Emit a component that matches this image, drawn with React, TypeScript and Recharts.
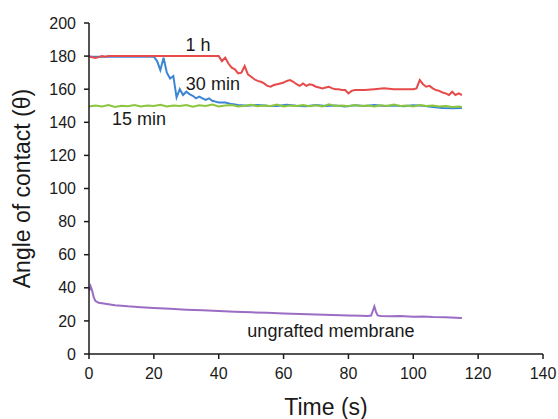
import React from "react";
import {
    Line,
    LineChart,
    ReferenceDot,
    XAxis,
    YAxis,
} from "recharts";

// 1 h grafting
const oneHourTime = [
    0, 1, 2, 3, 4, 5, 6, 8, 10, 15, 20, 25, 30, 35, 38, 40,
    41, 42, 43, 44, 45, 46, 47, 48, 49, 50,
    51, 52, 53, 54, 55, 56, 57, 58, 59, 60,
    61, 62, 63, 64, 65, 66, 67, 68, 69, 70,
    71, 72, 73, 74, 75, 76, 77, 78, 79, 80,
    81, 82, 83, 85, 88, 91, 94, 97, 100,
    101, 102, 103, 104, 105, 106, 107, 108, 109, 110, 111, 112, 113, 114, 115,
];
const oneHourAngle = [
    180, 179.3, 178.8, 179.4, 180, 179.6, 180, 180, 180, 180, 180, 180, 180, 180, 180, 180,
    177, 179, 175.5, 173, 172, 169.5, 170, 174, 169, 167.5,
    166, 165, 164.5, 163.5, 162, 161.5, 162.5, 163, 163.5, 164,
    165, 165.5, 164.5, 163, 162, 163.5, 162, 163, 162.5, 161.5,
    161, 160.5, 161, 161.5, 160.5, 160, 160, 159.5, 159.5, 157.5,
    159, 159.5, 159.5, 159.5, 160, 160.5, 160, 160, 160,
    160.5, 165.5, 163, 161.5, 162, 160.5, 159.5, 159, 158, 157.5, 156.5, 158.5, 156.5, 157.5, 156.5,
];

// 30 min grafting
const thirtyMinTime = [
    0, 5, 10, 15, 20,
    21, 22, 23, 24, 25, 26, 27, 28, 29, 30,
    31, 32, 33, 34, 35, 36, 37, 38, 39, 40,
    42, 44, 46,
    49, 52, 55, 58, 61, 64, 67, 70, 73, 76, 79, 82, 85, 88, 91, 94, 97, 100, 103, 106, 109, 112, 115,
];
const thirtyMinAngle = [
    179.6, 179.6, 179.6, 179.6, 179.6,
    177, 171.5, 179, 170, 166.5, 168, 155, 160, 156.5, 158.5,
    157, 156, 154.5, 155.5, 154.5, 153.5, 154.5, 153, 152.5, 152,
    152, 151, 150.5,
    150, 150.5, 150, 149.8, 150.6, 150, 149.7, 150.4, 149.8, 150.2, 149.6, 150.3, 149.8, 150.5, 149.9, 150.2, 149.7, 150.3, 150, 149.2, 148.7, 148.5, 148.6,
];

// 15 min grafting
const fifteenMinTime = [
    0, 2, 4, 6, 8, 10, 12, 14, 16, 18,
    20, 22, 24, 26, 28, 30, 32, 34, 36, 38,
    40, 42, 44, 46, 48, 50, 52, 54, 56, 58,
    60, 62, 64, 66, 68, 70, 72, 74, 76, 78,
    80, 82, 84, 86, 88, 90, 92, 94, 96, 98,
    100, 102, 104, 106, 108, 110, 112, 114, 115,
];
const fifteenMinAngle = [
    149.5, 150.2, 149.6, 150.4, 149.3, 150, 149.7, 150.5, 149.5, 150.1,
    149.8, 150.6, 149.6, 150.2, 149.9, 150.5, 149.4, 150.3, 149.8, 150.7,
    149.6, 150.1, 150.4, 149.5, 150, 150.6, 149.7, 150.2, 149.9, 150.8,
    149.6, 150.1, 149.8, 150.5, 149.7, 150.3, 149.6, 150.9, 149.8, 150.2,
    149.7, 150.4, 149.9, 150.1, 149.6, 150.3, 149.8, 150.7, 149.9, 150.2,
    149.6, 150.5, 149.8, 150.1, 149.5, 149.9, 149.3, 149.6, 149.2,
];

// ungrafted membrane
const ungraftedTime = [
    0, 0.5, 1, 1.5, 2, 3, 5, 8, 12, 16,
    20, 25, 30, 35, 40, 45, 50, 55, 60, 65,
    70, 75, 80, 84, 86, 87, 87.5, 88, 88.5, 89,
    90, 93, 96, 100, 103, 106, 110, 113, 115,
];
const ungraftedAngle = [
    38, 41, 38, 34, 32, 31, 30.4, 29.5, 28.8, 28.3,
    27.8, 27.3, 26.8, 26.4, 26, 25.6, 25.2, 24.9, 24.5, 24.2,
    23.9, 23.6, 23.3, 23.1, 22.9, 23.2, 26, 28.7, 25.5, 23.3,
    23, 22.8, 22.9, 22.5, 22.6, 22.3, 22.2, 21.9, 21.7,
];

const xTicks = [0, 20, 40, 60, 80, 100, 120, 140];
const yTicks = [0, 20, 40, 60, 80, 100, 120, 140, 160, 180, 200];

const toPoints = (times: number[], angles: number[]) =>
    times.map((t, i) => ({ t, angle: angles[i] }));

const FONT = "'Liberation Sans', Arial, sans-serif";
const INK = "#1a1a1a";

const seriesLabel = (value: string) => ({
    value,
    position: "center" as const,
    fill: INK,
    fontSize: 18,
    fontFamily: FONT,
});

export default function App() {
    return (
        <div style={{ position: "absolute", left: 0, top: 0, background: "#fff" }}>
            <LineChart
                width={558}
                height={419}
                margin={{ top: 23, right: 15, bottom: 0, left: 0 }}
                style={{ fontFamily: FONT }}
            >
                <XAxis
                    dataKey="t"
                    type="number"
                    domain={[0, 140]}
                    ticks={xTicks}
                    height={65}
                    stroke={INK}
                    strokeWidth={1.5}
                    tickSize={5}
                    tickMargin={9}
                    tick={{ fill: INK, fontSize: 16 }}
                    allowDataOverflow
                    label={{
                        value: "Time (s)",
                        position: "insideBottom",
                        offset: 4,
                        dx: 10,
                        fill: INK,
                        fontSize: 23,
                    }}
                />
                <YAxis
                    type="number"
                    domain={[0, 200]}
                    ticks={yTicks}
                    width={89}
                    stroke={INK}
                    strokeWidth={1.5}
                    tickSize={5}
                    tickMargin={8}
                    tick={{ fill: INK, fontSize: 16 }}
                    label={{
                        value: "Angle of contact (θ)",
                        angle: -90,
                        position: "insideLeft",
                        offset: 22,
                        fill: INK,
                        fontSize: 23,
                        style: { textAnchor: "middle" },
                    }}
                />
                <Line
                    data={toPoints(thirtyMinTime, thirtyMinAngle)}
                    dataKey="angle"
                    stroke="#3b86d4"
                    strokeWidth={2}
                    dot={false}
                    isAnimationActive={false}
                />
                <Line
                    data={toPoints(fifteenMinTime, fifteenMinAngle)}
                    dataKey="angle"
                    stroke="#8cc63f"
                    strokeWidth={2}
                    dot={false}
                    isAnimationActive={false}
                />
                <Line
                    data={toPoints(oneHourTime, oneHourAngle)}
                    dataKey="angle"
                    stroke="#e64a4a"
                    strokeWidth={2}
                    dot={false}
                    isAnimationActive={false}
                />
                <Line
                    data={toPoints(ungraftedTime, ungraftedAngle)}
                    dataKey="angle"
                    stroke="#9b6cc4"
                    strokeWidth={2}
                    dot={false}
                    isAnimationActive={false}
                />
                <ReferenceDot x={33.6} y={186.7} r={0} stroke="none" fill="none" label={seriesLabel("1 h")} />
                <ReferenceDot x={38.2} y={163.1} r={0} stroke="none" fill="none" label={seriesLabel("30 min")} />
                <ReferenceDot x={15.4} y={142} r={0} stroke="none" fill="none" label={seriesLabel("15 min")} />
                <ReferenceDot x={74.6} y={13.9} r={0} stroke="none" fill="none" label={seriesLabel("ungrafted membrane")} />
            </LineChart>
        </div>
    );
}
